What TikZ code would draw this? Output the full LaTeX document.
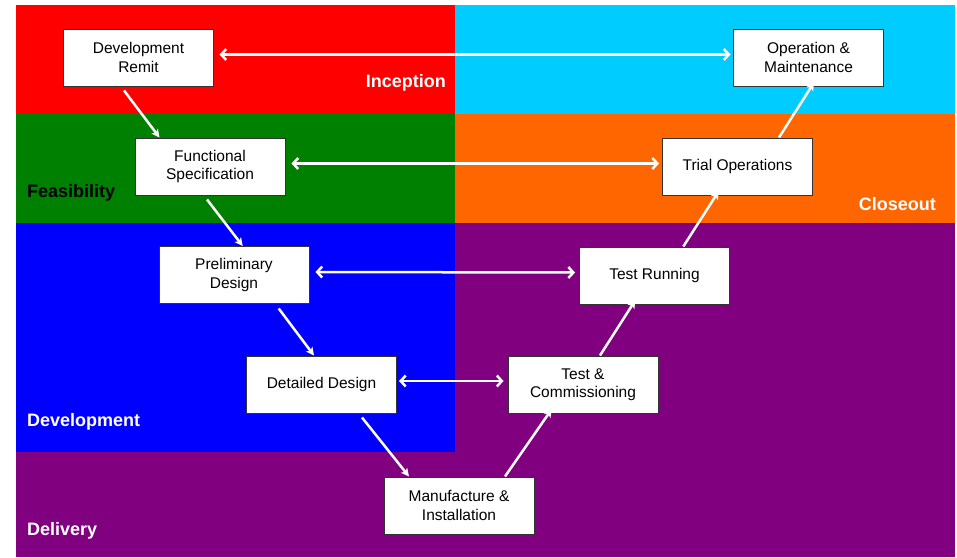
\documentclass[tikz,border=0pt]{standalone}
\usepackage{fontspec}
\setmainfont{Liberation Sans}
\usetikzlibrary{arrows.meta}
\definecolor{cRed}{HTML}{FF0000}
\definecolor{cCyan}{HTML}{00CCFF}
\definecolor{cGreen}{HTML}{008000}
\definecolor{cOrange}{HTML}{FF6600}
\definecolor{cBlue}{HTML}{0000FF}
\definecolor{cPurple}{HTML}{800080}
\definecolor{cBorder}{HTML}{333333}
\tikzset{
  stagebox/.style={draw=cBorder, line width=1pt, fill=white, minimum width=150pt, minimum height=57pt,
    inner sep=0pt, align=center, font=\fontsize{15.5}{18.3}\selectfont},
  phaselabel/.style={inner sep=0pt, font=\fontsize{18}{20}\selectfont\bfseries},
  flowarrow/.style={white, line width=2.5pt, -{Stealth[length=8pt,width=8pt,inset=2pt]}},
  linkarrow/.style={white, line width=2.5pt, {Straight Barb[length=5pt,width=11pt]}-{Straight Barb[length=5pt,width=11pt]}}
}
\begin{document}
\begin{tikzpicture}[x=1pt,y=-1pt]
\useasboundingbox (0,0) rectangle (957,557);
% phase regions
\fill[cPurple] (16,223) rectangle (955,557);
\fill[cRed] (16,5) rectangle (455,114);
\fill[cCyan] (455,5) rectangle (955,114);
\fill[cGreen] (16,114) rectangle (455,223);
\fill[cOrange] (455,114) rectangle (955,223);
\fill[cBlue] (16,223) rectangle (455,452);
% phase labels
\node[phaselabel, white, anchor=base east] (lInc) at (446,87) {Inception};
\node[phaselabel, black, anchor=base west] (lFea) at (27,197) {Feasibility};
\node[phaselabel, white, anchor=base east] (lClo) at (936,210.5) {Closeout};
\node[phaselabel, white, anchor=base west] (lDev) at (27,426.5) {Development};
\node[phaselabel, white, anchor=base west] (lDel) at (27,535) {Delivery};
% stages
\node[stagebox] (DR) at (138.5,57.5) {Development\\Remit};
\node[stagebox] (FS) at (210,166.5) {Functional\\Specification};
\node[stagebox] (PD) at (234,275) {Preliminary\\Design};
\node[stagebox] (DD) at (321.5,384.5) {Detailed Design};
\node[stagebox] (MI) at (459,505.5) {Manufacture \&\\Installation};
\node[stagebox] (TC) at (583,384.5) {Test \&\\Commissioning};
\node[stagebox] (TR) at (654.5,275.5) {Test Running};
\node[stagebox] (TO) at (737.5,166.5) {Trial Operations};
\node[stagebox] (OM) at (808.5,57.5) {Operation \&\\Maintenance};
% V flow
\draw[flowarrow] ([xshift=-14.5pt,yshift=-4pt]DR.south) -- ([xshift=-50.5pt]FS.north);
\draw[flowarrow] ([xshift=-3pt,yshift=-4pt]FS.south) -- ([xshift=8.7pt]PD.north);
\draw[flowarrow] ([xshift=44.7pt,yshift=-4.5pt]PD.south) -- ([xshift=-7.5pt]DD.north);
\draw[flowarrow] ([xshift=40.5pt,yshift=-4pt]DD.south) -- ([xshift=-50pt]MI.north);
\draw[flowarrow] ([xshift=46pt]MI.north) -- ([xshift=-31.3pt,yshift=4.3pt]TC.south);
\draw[flowarrow] ([xshift=17pt]TC.north) -- ([xshift=-19.2pt,yshift=4.3pt]TR.south);
\draw[flowarrow] ([xshift=28.8pt]TR.north) -- ([xshift=-18.8pt,yshift=4.3pt]TO.south);
\draw[flowarrow] ([xshift=41.5pt]TO.north) -- ([xshift=5.5pt,yshift=4pt]OM.south);
% verification links
\draw[linkarrow] ([xshift=5.5pt,yshift=3pt]DR.east) -- ([xshift=-2.5pt,yshift=3pt]OM.west);
\draw[linkarrow] ([xshift=6pt,yshift=3pt]FS.east) -- ([xshift=-3pt,yshift=3pt]TO.west);
\draw[linkarrow] ([xshift=6pt,yshift=3pt]PD.east) -- ([xshift=-4pt,yshift=3pt]TR.west);
\draw[linkarrow] ([xshift=2pt,yshift=3.5pt]DD.east) -- ([xshift=-4pt,yshift=3.5pt]TC.west);
\end{tikzpicture}
\end{document}
